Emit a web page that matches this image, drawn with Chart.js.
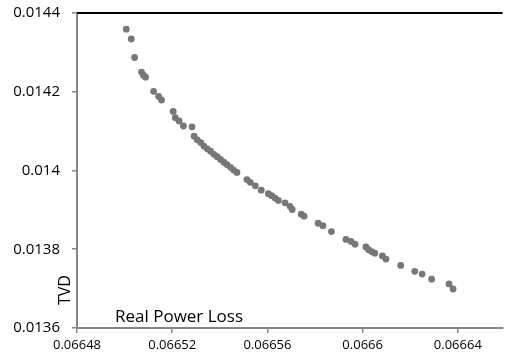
<!DOCTYPE html>
<html>
<head>
<meta charset="utf-8">
<script src="https://cdn.jsdelivr.net/npm/chart.js@4.4.1/dist/chart.umd.min.js"></script>
<style>
html,body{margin:0;padding:0;background:#fff;}
</style>
</head>
<body>
<canvas id="grafico" width="506" height="360"></canvas>
<script>

// perdida de potencia real (eje x) y TVD (eje y)
const perdidaPotencia = [
    0.0665007, 0.0665028, 0.0665042, 0.0665071, 0.0665079, 0.0665088,
    0.0665122, 0.0665143, 0.0665155, 0.0665204, 0.0665213, 0.0665229,
    0.0665247, 0.0665283, 0.0665292, 0.0665305, 0.0665320, 0.0665333,
    0.0665347, 0.0665361, 0.0665375, 0.0665389, 0.0665403, 0.0665417,
    0.0665430, 0.0665445, 0.0665458, 0.0665472, 0.0665514, 0.0665528,
    0.0665549, 0.0665574, 0.0665604, 0.0665618, 0.0665632, 0.0665646,
    0.0665674, 0.0665695, 0.0665704, 0.0665742, 0.0665754, 0.0665813,
    0.0665833, 0.0665869, 0.0665930, 0.0665951, 0.0665968, 0.0666014,
    0.0666025, 0.0666038, 0.0666051, 0.0666083, 0.0666098, 0.0666160,
    0.0666219, 0.0666250, 0.0666290, 0.0666363, 0.0666380
];

const tvd = [
    0.014359, 0.014334, 0.014287, 0.014250, 0.014242, 0.014237,
    0.014201, 0.014188, 0.014179, 0.014150, 0.014134, 0.014126,
    0.014113, 0.014111, 0.014087, 0.014078, 0.014071, 0.014062,
    0.014055, 0.014049, 0.014041, 0.014035, 0.014028, 0.014021,
    0.014015, 0.014008, 0.014001, 0.013995, 0.013977, 0.013970,
    0.013961, 0.013950, 0.013941, 0.013936, 0.013930, 0.013924,
    0.013918, 0.013909, 0.013901, 0.013889, 0.013884, 0.013866,
    0.013860, 0.013845, 0.013825, 0.013820, 0.013813, 0.013806,
    0.013799, 0.013794, 0.013790, 0.013783, 0.013775, 0.013759,
    0.013744, 0.013737, 0.013724, 0.013712, 0.013699
];

const ticksX = [0.06648, 0.06652, 0.06656, 0.0666, 0.06664];
const ticksY = [0.0136, 0.0138, 0.014, 0.0142, 0.0144];

const tituloX = "Real Power Loss";
const tituloY = "TVD";

const textos = {
    id:"textos",
    afterDraw(chart){
        const ctx = chart.ctx;
        const area = chart.chartArea;
        ctx.save();
        // borde superior negro
        ctx.strokeStyle = "#000";
        ctx.lineWidth = 2;
        ctx.beginPath();
        ctx.moveTo(area.left, area.top);
        ctx.lineTo(area.right, area.top);
        ctx.stroke();

        ctx.fillStyle = "#000";
        ctx.font = '17px "Open Sans"';
        ctx.textAlign = "left";
        ctx.textBaseline = "alphabetic";
        ctx.fillText(tituloX, area.left + 38, area.bottom - 6);

        ctx.translate(area.left - 7, 290);
        ctx.rotate(-Math.PI / 2);
        ctx.font = '16px "Open Sans"';
        ctx.textAlign = "center";
        ctx.fillText(tituloY, 0, 0);
        ctx.restore();
    }
};

// sin relleno extra por las etiquetas, el area queda donde la pongo
function sinRelleno(s){
    s.paddingTop = 0;
    s.paddingBottom = 0;
    s.paddingLeft = 0;
    s.paddingRight = 0;
}

window.onload = () => {

    new Chart(
        document.getElementById("grafico"),
        {
            type:"scatter",
            data:{
                datasets:[{
                    data: perdidaPotencia.map((x, i) => ({x:x, y:tvd[i]})),
                    backgroundColor:"#777777",
                    borderWidth:0,
                    pointRadius:3.4,
                    pointHoverRadius:3.4
                }]
            },
            options:{
                responsive:false,
                animation:false,
                layout:{padding:{top:13, right:0, left:0, bottom:0}},
                plugins:{
                    legend:{display:false},
                    tooltip:{enabled:false}
                },
                scales:{
                    x:{
                        type:"linear",
                        min:0.06648,
                        max:0.0666588,
                        afterBuildTicks: s => { s.ticks = ticksX.map(v => ({value:v})); },
                        afterFit: s => { s.height = 32; sinRelleno(s); },
                        border:{color:"#868686", width:2},
                        grid:{drawOnChartArea:false, tickLength:5, color:"#868686", lineWidth:1.5},
                        ticks:{
                            color:"#000",
                            font:{family:"Open Sans", size:13},
                            padding:4,
                            maxRotation:0,
                            callback: v => String(v)
                        }
                    },
                    y:{
                        type:"linear",
                        min:0.0136,
                        max:0.0144,
                        afterBuildTicks: s => { s.ticks = ticksY.map(v => ({value:v})); },
                        afterFit: s => { s.width = 77; sinRelleno(s); },
                        border:{color:"#868686", width:2},
                        grid:{drawOnChartArea:false, tickLength:5, color:"#868686", lineWidth:1.5},
                        ticks:{
                            color:"#000",
                            font:{family:"Open Sans", size:15},
                            padding:12,
                            callback: v => String(v)
                        }
                    }
                }
            },
            plugins:[textos]
        }
    );

};
</script>
</body>
</html>
